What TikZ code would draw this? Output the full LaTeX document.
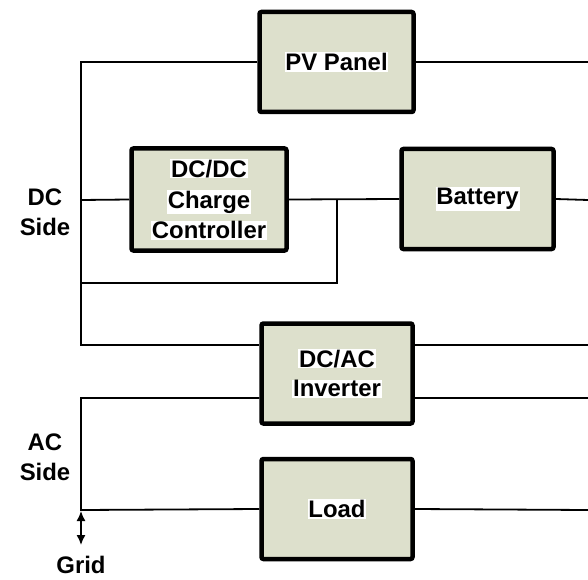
\documentclass[tikz,border=0pt]{standalone}
\usepackage{fontspec}
\setmainfont{Liberation Sans}
\usetikzlibrary{arrows.meta}
\definecolor{boxfill}{RGB}{221,224,204}
\setlength{\fboxsep}{0.8pt}
\newcommand{\wl}[1]{\colorbox{white}{#1}}
\tikzset{
  blk/.style={draw=black, line width=4.5bp, fill=boxfill, rounded corners=2bp,
    align=center, font=\fontsize{24}{30}\selectfont\bfseries},
  wire/.style={draw=black, line width=1.8bp},
  lbl/.style={align=center, font=\fontsize{24}{30}\selectfont\bfseries, inner sep=0pt}
}
\begin{document}
\begin{tikzpicture}[x=1bp,y=-1bp]
\useasboundingbox (0,0) rectangle (588,580);
% boxes
\node[blk, minimum width=154bp, minimum height=100bp] (pv) at (336.5,62) {\wl{PV Panel}};
\node[blk, minimum width=155bp, minimum height=102bp, inner sep=1bp] (dcdc) at (209,199.5) {\wl{DC/DC}\\[1pt]\wl{Charge}\\[1pt]\wl{Controller}};
\node[blk, minimum width=152bp, minimum height=100bp] (bat) at (477.5,199) {\wl{Battery}};
\node[blk, minimum width=151bp, minimum height=100bp] (inv) at (337,373.5) {\wl{DC/AC}\\\wl{Inverter}};
\node[blk, minimum width=151bp, minimum height=100bp] (load) at (337,509) {\wl{Load}};
% labels
\node[lbl] (dcside) at (45,212) {DC\\Side};
\node[lbl] (acside) at (45,457) {AC\\Side};
\node[lbl] (grid) at (81,565) {Grid};
% coordinates
\coordinate (ltop) at (81,62);
\coordinate (ldc) at (81,200);
\coordinate (lbot) at (81,283);
\coordinate (linv) at (81,345);
\coordinate (invdcw) at (inv.west |- 0,345);
\coordinate (invacw) at (inv.west |- 0,398);
\coordinate (invdce) at (inv.east |- 0,345);
\coordinate (invace) at (inv.east |- 0,398);
\coordinate (lac) at (81,398);
\coordinate (lload) at (81,510);
\coordinate (junc) at (337,200);
\coordinate (juncb) at (337,283);
\coordinate (gtop) at (81,511);
\coordinate (gbot) at (81,545);
\coordinate (rpv) at (588,62);
\coordinate (rbat) at (588,200);
\coordinate (rinvdc) at (588,345);
\coordinate (rinvac) at (588,398);
\coordinate (rload) at (588,510);
% wires
\draw[wire] (pv.west) -- (ltop) -- (linv) -- (invdcw);
\draw[wire] (dcdc.west) -- (ldc);
\draw[wire] (dcdc.east) -- (bat.west);
\draw[wire] (junc) -- (juncb) -- (lbot);
\draw[wire] (pv.east) -- (rpv);
\draw[wire] (bat.east) -- (rbat);
\draw[wire] (invdce) -- (rinvdc);
\draw[wire] (invace) -- (rinvac);
\draw[wire] (invacw) -- (lac) -- (lload) -- (load.west);
\draw[wire] (load.east) -- (rload);
\draw[wire, line width=1.5bp, {Latex[length=10bp,width=9bp]}-{Latex[length=10bp,width=9bp]}] (gtop) -- (gbot);
\end{tikzpicture}
\end{document}
